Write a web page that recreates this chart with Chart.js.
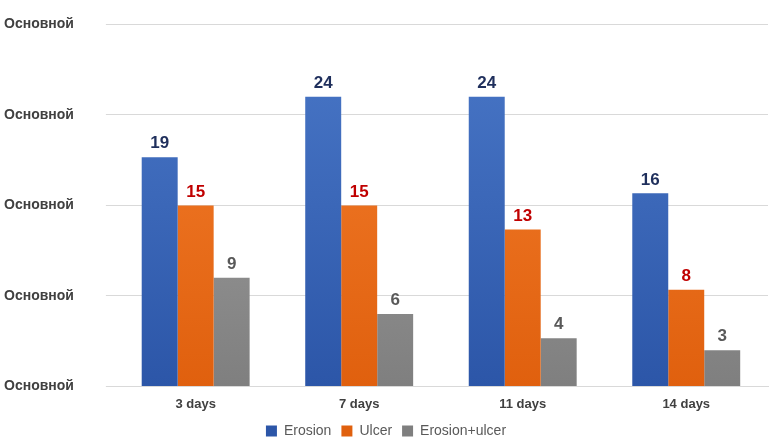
<!DOCTYPE html>
<html><head><meta charset="utf-8">
<script src="https://cdn.jsdelivr.net/npm/chart.js@4"></script>
<style>html,body{margin:0;background:#fff}#w{width:772px;height:448px}</style>
</head><body><div id="w"><canvas id="c"></canvas></div>
<script>
const categories = ['3 days', '7 days', '11 days', '14 days'];
const erosion = [19, 24, 24, 16];
const ulcer = [15, 15, 13, 8];
const erosionUlcer = [9, 6, 4, 3];
const tickLabel = 'Основной';

function grad(top, bottom) {
  return ctx => {
    const a = ctx.chart.chartArea;
    if (!a) return top;
    const g = ctx.chart.ctx.createLinearGradient(0, a.top, 0, a.bottom);
    g.addColorStop(0, top); g.addColorStop(1, bottom);
    return g;
  };
}

const labelPlugin = {
  id: 'vals',
  afterDatasetsDraw(chart) {
    const c = chart.ctx;
    chart.data.datasets.forEach((ds, i) => {
      chart.getDatasetMeta(i).data.forEach((bar, j) => {
        c.save();
        c.font = 'bold 17px "Liberation Sans", Arial';
        c.fillStyle = ds.labelColor;
        c.textAlign = 'center';
        c.textBaseline = 'bottom';
        c.fillText(ds.data[j], bar.x, bar.y - 5);
        c.restore();
      });
    });
  }
};

new Chart(document.getElementById('c'), {
  type: 'bar',
  data: {
    labels: categories,
    datasets: [
      { label: 'Erosion', data: erosion, backgroundColor: grad('#4a78c8', '#2c56a8'), labelColor: '#1f2f5c' },
      { label: 'Ulcer', data: ulcer, backgroundColor: grad('#f47f2e', '#e0600e'), labelColor: '#c00000' },
      { label: 'Erosion+ulcer', data: erosionUlcer, backgroundColor: grad('#a6a6a6', '#7f7f7f'), labelColor: '#595959' }
    ]
  },
  options: {
    responsive: true, maintainAspectRatio: false, animation: false,
    layout: { padding: { top: 12, right: 4, left: 4, bottom: 0 } },
    datasets: { bar: { categoryPercentage: 0.66, barPercentage: 1 } },
    scales: {
      x: {
        grid: { display: false },
        border: { color: '#d9d9d9' },
        ticks: { color: '#404040', padding: 2, font: { size: 13, weight: 'bold', family: '"Liberation Sans", Arial' } }
      },
      y: {
        min: 0, max: 30,
        afterBuildTicks: ax => { ax.ticks = [0, 7.5, 15, 22.5, 30].map(v => ({ value: v })); },
        grid: { color: '#d9d9d9' },
        border: { display: false },
        ticks: { callback: () => tickLabel, color: '#404040', padding: 16, mirror: false,
          crossAlign: 'far',
          font: { size: 14, weight: 'bold', family: '"Liberation Sans", Arial' } }
      }
    },
    plugins: {
      tooltip: { enabled: false },
      legend: {
        position: 'bottom',
        labels: { boxWidth: 11, boxHeight: 11, color: '#595959', padding: 10,
          font: { size: 14, family: '"Liberation Sans", Arial' } }
      }
    }
  },
  plugins: [labelPlugin]
});
</script></body></html>
